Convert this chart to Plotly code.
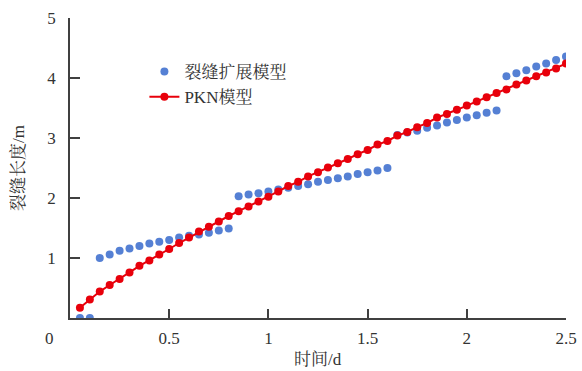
import plotly.graph_objects as go

# Time (d) for both series
t = [0.05, 0.10, 0.15, 0.20, 0.25, 0.30, 0.35, 0.40, 0.45, 0.50,
     0.55, 0.60, 0.65, 0.70, 0.75, 0.80, 0.85, 0.90, 0.95, 1.00,
     1.05, 1.10, 1.15, 1.20, 1.25, 1.30, 1.35, 1.40, 1.45, 1.50,
     1.55, 1.60, 1.65, 1.70, 1.75, 1.80, 1.85, 1.90, 1.95, 2.00,
     2.05, 2.10, 2.15, 2.20, 2.25, 2.30, 2.35, 2.40, 2.45, 2.50]

# Fracture length (m), fracture-propagation model
frac_model = [0.00, 0.00, 1.00, 1.06, 1.12, 1.16, 1.20, 1.24, 1.27, 1.30,
              1.34, 1.37, 1.39, 1.42, 1.46, 1.49, 2.03, 2.06, 2.08, 2.11,
              2.14, 2.17, 2.20, 2.23, 2.27, 2.30, 2.33, 2.36, 2.40, 2.43,
              2.46, 2.50, 3.05, 3.09, 3.12, 3.17, 3.21, 3.26, 3.30, 3.34,
              3.38, 3.42, 3.46, 4.03, 4.08, 4.13, 4.19, 4.24, 4.30, 4.36]

# Fracture length (m), PKN model
pkn_model = [0.17, 0.31, 0.44, 0.55, 0.65, 0.76, 0.87, 0.96, 1.06, 1.15,
             1.25, 1.34, 1.44, 1.52, 1.61, 1.70, 1.78, 1.86, 1.94, 2.02,
             2.11, 2.20, 2.27, 2.36, 2.43, 2.51, 2.58, 2.65, 2.73, 2.80,
             2.89, 2.95, 3.04, 3.10, 3.18, 3.25, 3.34, 3.40, 3.47, 3.54,
             3.61, 3.68, 3.75, 3.81, 3.89, 3.96, 4.03, 4.09, 4.16, 4.24]

x_ticks = [0.5, 1, 1.5, 2, 2.5]
x_tick_text = ["0.5", "1", "1.5", "2", "2.5"]
y_ticks = [1, 2, 3, 4, 5]

FONT = "Liberation Serif, Noto Serif CJK SC, Noto Sans CJK SC, serif"
AXIS_COLOR = "#404040"
TEXT_COLOR = "#333333"

fig = go.Figure()

fig.add_trace(go.Scatter(
    x=t, y=frac_model, mode="markers", name="裂缝扩展模型",
    marker=dict(color="#5580D4", size=8, line=dict(width=0)),
))

fig.add_trace(go.Scatter(
    x=t, y=pkn_model, mode="lines+markers", name="PKN模型",
    line=dict(color="#E8000B", width=2),
    marker=dict(color="#E8000B", size=8, line=dict(width=0)),
))

fig.update_layout(
    width=582, height=371,
    margin=dict(l=70, r=16, t=18, b=53),
    paper_bgcolor="white", plot_bgcolor="white",
    font=dict(family=FONT, size=17, color=TEXT_COLOR),
    showlegend=True,
    legend=dict(
        x=0.150, y=0.880, xanchor="left", yanchor="top",
        bgcolor="rgba(0,0,0,0)", borderwidth=0,
        font=dict(family=FONT, size=17, color=TEXT_COLOR),
        tracegroupgap=0,
    ),
    xaxis=dict(
        range=[0, 2.5], tickvals=x_ticks, ticktext=x_tick_text,
        ticks="inside", ticklen=9, tickwidth=1.5, tickcolor=AXIS_COLOR,
        showline=True, linecolor=AXIS_COLOR, linewidth=1.5,
        showgrid=False, zeroline=False, automargin=False,
        ticklabelstandoff=4,
    ),
    yaxis=dict(
        range=[0, 5], tickvals=y_ticks,
        ticks="inside", ticklen=10, tickwidth=1.5, tickcolor=AXIS_COLOR,
        showline=True, linecolor=AXIS_COLOR, linewidth=1.5,
        showgrid=False, zeroline=False, automargin=False,
        ticklabelstandoff=9,
    ),
)

# Axis titles
fig.add_annotation(
    text="时间/d", x=0.5, y=-0.138, xref="paper", yref="paper",
    xanchor="center", yanchor="middle", showarrow=False,
    font=dict(family=FONT, size=17, color=TEXT_COLOR),
)
fig.add_annotation(
    text="裂缝长度/m", x=-0.105, y=0.5, xref="paper", yref="paper",
    xanchor="center", yanchor="middle", showarrow=False, textangle=-90,
    font=dict(family=FONT, size=17, color=TEXT_COLOR),
)

# Shared origin label placed below the corner
fig.add_annotation(
    text="0", x=-0.042, y=-0.068, xref="paper", yref="paper",
    xanchor="center", yanchor="middle", showarrow=False,
    font=dict(family=FONT, size=17, color=TEXT_COLOR),
)

fig.write_html("out.html")
